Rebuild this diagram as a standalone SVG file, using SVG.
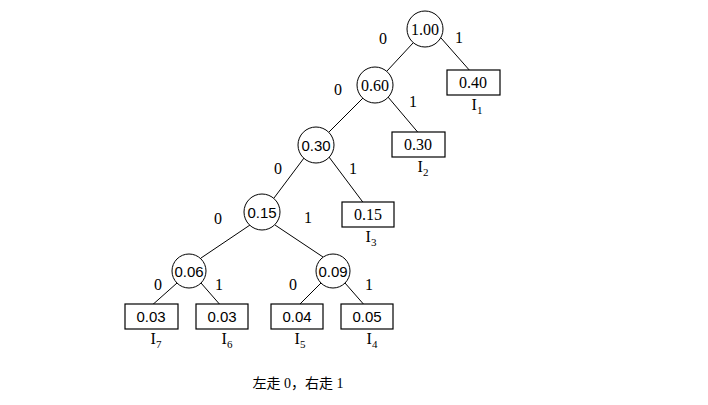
<svg xmlns="http://www.w3.org/2000/svg" width="708" height="405" viewBox="0 0 708 405">
<style>
.n{fill:#fff;stroke:#000;stroke-width:1}
.b{fill:#fff;stroke:#000;stroke-width:1.2}
.e{stroke:#000;stroke-width:1;fill:none}
.s{font-family:"Liberation Serif","Times New Roman",serif;font-size:16px;fill:#000}
.a{font-family:"Liberation Sans",Arial,sans-serif;font-size:15px;fill:#000}
.t{text-anchor:middle}
.sub{font-size:11px}
</style>
<rect width="708" height="405" fill="#fff"/>
<g id="edges">
<line class="e" x1="413" y1="43" x2="387" y2="71"/>
<line class="e" x1="441" y1="38" x2="471" y2="72"/>
<line class="e" x1="388" y1="97" x2="421" y2="136"/>
<line class="e" x1="363" y1="98" x2="329" y2="132"/>
<line class="e" x1="329" y1="157" x2="365" y2="205"/>
<line class="e" x1="304" y1="158" x2="274" y2="198"/>
<line class="e" x1="250" y1="225" x2="201" y2="258"/>
<line class="e" x1="275" y1="225" x2="323" y2="257"/>
<line class="e" x1="177" y1="283" x2="150" y2="307"/>
<line class="e" x1="201" y1="283" x2="222" y2="307"/>
<line class="e" x1="321" y1="283" x2="297" y2="307"/>
<line class="e" x1="345" y1="283" x2="366" y2="307"/>
</g>
<g class="s">
<text x="383" y="44" class="t">0</text>
<text x="459" y="43" class="t">1</text>
<text x="338" y="95" class="t">0</text>
<text x="413" y="107" class="t">1</text>
<text x="278" y="174" class="t">0</text>
<text x="353" y="174" class="t">1</text>
<text x="218" y="224" class="t">0</text>
<text x="308" y="223" class="t">1</text>
<text x="158" y="290" class="t">0</text>
<text x="219" y="290" class="t">1</text>
<text x="293" y="290" class="t">0</text>
<text x="369" y="290" class="t">1</text>
</g>
<g id="n100"><circle class="n" cx="425" cy="29" r="18"/><text class="s t" x="425" y="35">1.00</text></g>
<g id="n060"><circle class="n" cx="375" cy="85" r="18"/><text class="s t" x="375" y="91">0.60</text></g>
<g id="n030"><circle class="n" cx="316" cy="145" r="18"/><text class="a t" x="316" y="151">0.30</text></g>
<g id="n015"><circle class="n" cx="262" cy="212" r="18"/><text class="a t" x="262" y="218">0.15</text></g>
<g id="n006"><circle class="n" cx="189" cy="271" r="17"/><text class="a t" x="189" y="277">0.06</text></g>
<g id="n009"><circle class="n" cx="333" cy="271" r="17"/><text class="a t" x="333" y="277">0.09</text></g>
<g id="I1"><rect class="b" x="447" y="70" width="53" height="25"/><text class="s t" x="473" y="88">0.40</text><text class="s t" x="477" y="110">I<tspan class="sub" dy="4">1</tspan></text></g>
<g id="I2"><rect class="b" x="392" y="132" width="53" height="25"/><text class="s t" x="418" y="150">0.30</text><text class="s t" x="423" y="172">I<tspan class="sub" dy="4">2</tspan></text></g>
<g id="I3"><rect class="b" x="342" y="202" width="52" height="25" stroke-width="2"/><text class="s t" x="368" y="220">0.15</text><text class="s t" x="371" y="242">I<tspan class="sub" dy="4">3</tspan></text></g>
<g id="I7"><rect class="b" x="125" y="304" width="53" height="25"/><text class="a t" x="151" y="322">0.03</text><text class="s t" x="156" y="344">I<tspan class="sub" dy="4">7</tspan></text></g>
<g id="I6"><rect class="b" x="196" y="304" width="52" height="25"/><text class="a t" x="222" y="322">0.03</text><text class="s t" x="227" y="344">I<tspan class="sub" dy="4">6</tspan></text></g>
<g id="I5"><rect class="b" x="271" y="304" width="52" height="25"/><text class="a t" x="297" y="322">0.04</text><text class="s t" x="300" y="344">I<tspan class="sub" dy="4">5</tspan></text></g>
<g id="I4"><rect class="b" x="341" y="304" width="52" height="25"/><text class="a t" x="367" y="322">0.05</text><text class="s t" x="372" y="344">I<tspan class="sub" dy="4">4</tspan></text></g>
<text x="298" y="388" class="t" style="font-family:'Liberation Serif','Noto Sans CJK SC',serif;font-size:14px">左走 0，右走 1</text>
</svg>
